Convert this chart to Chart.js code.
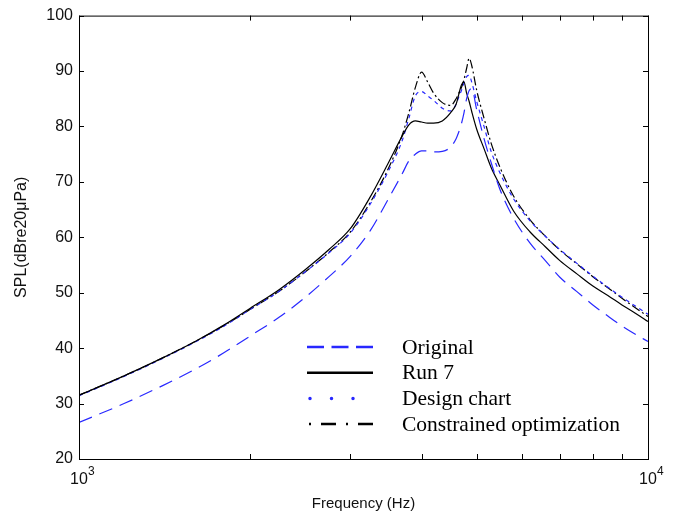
<!DOCTYPE html>
<html>
<head>
<meta charset="utf-8">
<script src="https://cdn.jsdelivr.net/npm/chart.js@4.4.0/dist/chart.umd.min.js"></script>
<style>
  html, body { margin: 0; padding: 0; background: #fff; }
  #wrap { width: 677px; height: 518px; }
</style>
</head>
<body>
<div id="wrap"><canvas id="splChart" width="677" height="518"></canvas></div>
<script>
// frequency grid (Hz) and SPL values (dB re 20 uPa)
const freqs = [1000, 1200, 1400, 1600, 1800, 2000, 2250, 2500, 2750, 3000, 3250, 3500, 3700, 3800, 3900, 4000, 4100, 4200, 4350, 4500,
  4600, 4650, 4700, 4750, 4800, 4850, 4900, 5000, 5150, 5300, 5500, 5800, 6200, 6600, 7000, 7500, 8000, 8500, 9000, 9500, 10000];

const original = [26.6, 30.0, 33.2, 36.2, 39.2, 42.2, 45.6, 49.2, 52.9, 56.6, 61.2, 67.0, 71.5, 73.8, 75.0, 75.6, 75.6, 75.4, 75.5, 76.3,
  77.8, 79.0, 80.5, 82.5, 85.0, 86.5, 86.8, 83.0, 77.8, 73.5, 68.5, 63.5, 59.0, 55.8, 52.8, 50.2, 47.8, 45.8, 44.0, 42.5, 41.2];

const run7 = [31.5, 35.0, 38.2, 41.2, 44.2, 47.2, 50.6, 54.2, 57.8, 61.6, 67.3, 73.5, 78.3, 80.3, 81.0, 80.8, 80.6, 80.6, 81.0, 82.5,
  84.0, 85.8, 87.5, 88.0, 86.0, 84.5, 82.7, 79.5, 76.0, 72.6, 69.3, 64.8, 61.0, 58.3, 55.8, 53.4, 51.2, 49.5, 47.8, 46.3, 44.8];

const designChart = [31.4, 34.9, 38.1, 41.1, 44.0, 47.0, 50.3, 53.8, 57.2, 60.8, 66.0, 72.0, 77.5, 81.5, 85.5, 86.3, 85.5, 84.7, 83.3, 82.8,
  84.0, 85.3, 86.5, 87.8, 89.0, 89.2, 88.0, 84.5, 80.0, 75.5, 71.5, 67.0, 63.0, 60.2, 57.8, 55.3, 53.0, 51.0, 49.2, 47.6, 46.1];

const constrainedOpt = [31.5, 35.0, 38.2, 41.2, 44.1, 47.0, 50.3, 53.8, 57.3, 61.0, 66.3, 72.5, 78.5, 82.5, 87.0, 89.8, 88.0, 86.0, 84.3, 83.8,
  85.0, 86.0, 87.0, 88.5, 90.5, 92.3, 91.0, 86.5, 81.5, 77.0, 72.5, 67.5, 63.2, 60.2, 57.7, 55.2, 52.9, 50.9, 49.0, 47.3, 45.7];

const seriesNames = ["Original", "Run 7", "Design chart", "Constrained optimization"];
// decade labels: base and exponent
const xTickBase = { 1000: "10", 10000: "10" };
const xTickExp = { 1000: "3", 10000: "4" };

const BLUE = "#2828ff";
const SANS = "'Liberation Sans', Arial, sans-serif";

// only multiples of 1000 get a tick mark (2000, 3000 ... 9000)
const isMajorX = (v) => Math.round(v) % 1000 === 0;

// MATLAB-like box with inward ticks on all four sides, plus the decade exponents
const boxTicks = {
  id: "boxTicks",
  afterDatasetsDraw(chart) {
    const { ctx, chartArea: a, scales: { x, y } } = chart;
    ctx.save();
    ctx.strokeStyle = "#000";
    ctx.lineWidth = 1;
    ctx.strokeRect(a.left + 0.5, a.top + 0.5, a.right - a.left, a.bottom - a.top);
    ctx.beginPath();
    y.ticks.forEach((t) => {
      const py = Math.round(y.getPixelForValue(t.value)) + 0.5;
      ctx.moveTo(a.left, py); ctx.lineTo(a.left + 5, py);
      ctx.moveTo(a.right, py); ctx.lineTo(a.right - 5, py);
    });
    x.ticks.filter((t) => isMajorX(t.value)).forEach((t) => {
      const px = Math.round(x.getPixelForValue(t.value)) + 0.5;
      ctx.moveTo(px, a.bottom); ctx.lineTo(px, a.bottom - 5);
      ctx.moveTo(px, a.top); ctx.lineTo(px, a.top + 5);
    });
    ctx.stroke();

    ctx.fillStyle = "#111";
    ctx.font = "12px " + SANS;
    ctx.textBaseline = "alphabetic";
    ctx.textAlign = "left";
    Object.keys(xTickExp).forEach((v) => {
      const px = x.getPixelForValue(Number(v));
      ctx.fillText(xTickExp[v], px + 9, a.bottom + 16);
    });
    ctx.restore();
  },
};

// legend drawn inside the axes, lower right
const innerLegend = {
  id: "innerLegend",
  afterDatasetsDraw(chart, args, opts) {
    const { ctx } = chart;
    ctx.save();
    ctx.font = opts.font;
    ctx.textBaseline = "middle";
    chart.data.datasets.forEach((ds, i) => {
      const y = opts.top + i * opts.rowGap;
      const st = opts.styles[i];
      ctx.beginPath();
      ctx.setLineDash(st.dash);
      ctx.lineCap = st.cap || "butt";
      ctx.lineWidth = st.width;
      ctx.strokeStyle = ds.borderColor;
      ctx.moveTo(st.x0, y);
      ctx.lineTo(opts.lineEnd, y);
      ctx.stroke();
      ctx.setLineDash([]);
      ctx.fillStyle = "#000";
      ctx.fillText(ds.label, opts.textX, y + 1);
    });
    ctx.restore();
  },
};

const mkSet = (label, values, color, dash) => ({
  label,
  data: values,
  borderColor: color,
  borderWidth: 1.2,
  borderDash: dash,
  pointRadius: 0,
  fill: false,
  cubicInterpolationMode: "monotone",
});

const ctx = document.getElementById("splChart").getContext("2d");

const splChart = new Chart(ctx, {
  type: "line",
  data: {
    labels: freqs,
    datasets: [
      mkSet(seriesNames[0], original, BLUE, [14, 8]),
      mkSet(seriesNames[1], run7, "#000", []),
      mkSet(seriesNames[2], designChart, BLUE, [4, 4]),
      mkSet(seriesNames[3], constrainedOpt, "#000", [9, 3, 2, 3]),
    ],
  },
  options: {
    responsive: false,
    animation: false,
    devicePixelRatio: 1,
    layout: { padding: { top: 12, right: 29, left: 0, bottom: 0 } },
    plugins: {
      legend: { display: false },
      tooltip: { enabled: false },
      innerLegend: {
        font: "21.5px 'Liberation Serif', 'Times New Roman', serif",
        top: 347,
        rowGap: 25.7,
        textX: 402,
        lineEnd: 373,
        styles: [
          { x0: 307, dash: [17, 7.5], width: 2.5 },
          { x0: 307, dash: [], width: 2.5 },
          { x0: 310, dash: [0, 21.5], width: 3.5, cap: "round" },
          { x0: 309, dash: [2, 10, 15, 10], width: 2.5 },
        ],
      },
    },
    scales: {
      x: {
        type: "logarithmic",
        min: 1000,
        max: 10000,
        grid: { display: false, drawTicks: false },
        border: { display: false },
        ticks: {
          autoSkip: false,
          maxRotation: 0,
          padding: 11,
          color: "#111",
          font: { family: SANS, size: 16 },
          callback: (v) => xTickBase[Math.round(v)] || "",
        },
        title: {
          display: true,
          text: "Frequency (Hz)",
          color: "#111",
          font: { family: SANS, size: 15 },
          padding: { top: 0, bottom: 5 },
        },
        afterFit: (s) => { s.height = 59; },
      },
      y: {
        min: 20,
        max: 100,
        grid: { display: false, drawTicks: false },
        border: { display: false },
        ticks: {
          stepSize: 10,
          padding: 6,
          color: "#111",
          font: { family: SANS, size: 16 },
        },
        title: {
          display: true,
          text: "SPL(dBre20\u03bcPa)",
          color: "#111",
          font: { family: SANS, size: 16 },
          padding: { top: 12, bottom: 0 },
        },
        afterFit: (s) => { s.width = 79; },
      },
    },
  },
  plugins: [boxTicks, innerLegend],
});
</script>
</body>
</html>
